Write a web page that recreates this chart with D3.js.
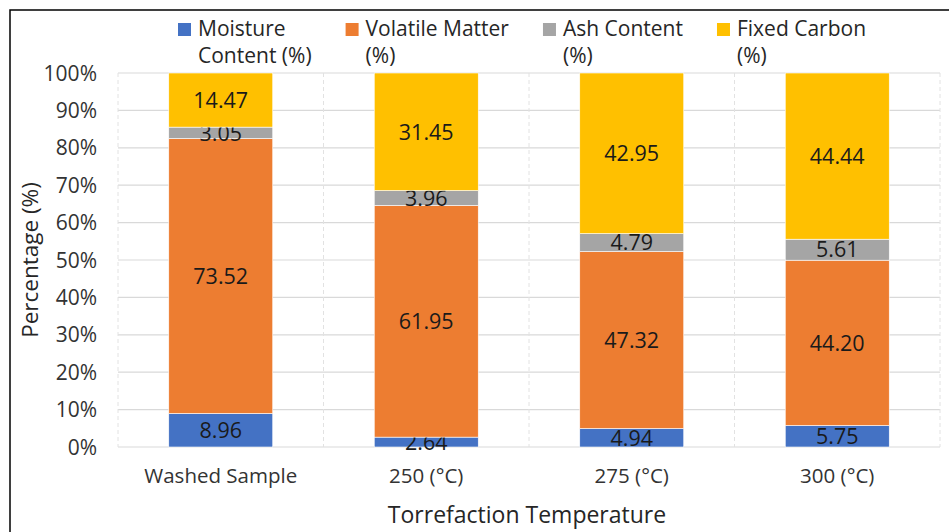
<!DOCTYPE html>
<html>
<head>
<meta charset="utf-8">
<script src="https://cdn.jsdelivr.net/npm/d3@7"></script>
<style>
  body { margin: 0; background: #fff; }
  text { font-family: "Open Sans", "Noto Sans", sans-serif; }
</style>
</head>
<body>
<div class="chart"></div>
<script>
var svgWidth = 949;
var svgHeight = 532;

// chart values
var categories = ["Washed Sample", "250 (°C)", "275 (°C)", "300 (°C)"];
var seriesKeys = ["moisture", "volatile", "ash", "fixed"];
var legendLines = [
  ["Moisture", "Content (%)"],
  ["Volatile Matter", "(%)"],
  ["Ash Content", "(%)"],
  ["Fixed Carbon", "(%)"]
];
var moisture = [8.96, 2.64, 4.94, 5.75];
var volatile = [73.52, 61.95, 47.32, 44.20];
var ash = [3.05, 3.96, 4.79, 5.61];
var fixedCarbon = [14.47, 31.45, 42.95, 44.44];
var yTicks = [0, 10, 20, 30, 40, 50, 60, 70, 80, 90, 100];
var colors = ["#4472C4", "#ED7D31", "#A5A5A5", "#FFC000"];

var margin = { top: 73, right: 9, bottom: 85, left: 118 };
var width = svgWidth - margin.left - margin.right;
var height = svgHeight - margin.top - margin.bottom;

var data = categories.map(function(c, i) {
  return { cat: c, moisture: moisture[i], volatile: volatile[i], ash: ash[i], fixed: fixedCarbon[i] };
});

var svg = d3.select(".chart")
  .append("svg")
  .attr("width", svgWidth)
  .attr("height", svgHeight);

// outer frame (cut off on the right and bottom like the screenshot)
svg.append("rect")
  .attr("x", 10)
  .attr("y", 10)
  .attr("width", 980)
  .attr("height", 560)
  .attr("fill", "none")
  .attr("stroke", "#000")
  .attr("stroke-width", 1.5);

var chartGroup = svg.append("g")
  .attr("transform", `translate(${margin.left}, ${margin.top})`);

var xScale = d3.scaleBand()
  .domain(categories)
  .range([0, width])
  .paddingInner(0.494)
  .paddingOuter(0.247);

var yScale = d3.scaleLinear()
  .domain([0, 100])
  .range([height, 0]);

// horizontal gridlines
chartGroup.append("g")
  .selectAll("line")
  .data(yTicks)
  .enter()
  .append("line")
  .attr("x1", 0)
  .attr("x2", width)
  .attr("y1", d => yScale(d))
  .attr("y2", d => yScale(d))
  .attr("stroke", "#d9d9d9")
  .attr("stroke-width", 1.2);

// vertical dashed gridlines at category boundaries
var step = xScale.step();
var bounds = d3.range(categories.length + 1).map(i => i * step);
chartGroup.append("g")
  .selectAll("line")
  .data(bounds)
  .enter()
  .append("line")
  .attr("x1", d => d)
  .attr("x2", d => d)
  .attr("y1", 0)
  .attr("y2", height)
  .attr("stroke", "#e2e2e2")
  .attr("stroke-width", 1)
  .attr("stroke-dasharray", "4,3");

// stacked bars
var stacked = d3.stack().keys(seriesKeys)(data);

var layers = chartGroup.selectAll(".layer")
  .data(stacked)
  .enter()
  .append("g")
  .attr("class", "layer")
  .attr("fill", (d, i) => colors[i]);

layers.selectAll("rect")
  .data(d => d)
  .enter()
  .append("rect")
  .attr("x", d => xScale(d.data.cat))
  .attr("y", d => yScale(d[1]))
  .attr("width", xScale.bandwidth())
  .attr("height", d => yScale(d[0]) - yScale(d[1]))
  .attr("stroke", "#fff")
  .attr("stroke-width", 0.6);

// data labels
layers.selectAll("text")
  .data(d => d.map(v => ({ v: v, key: d.key })))
  .enter()
  .append("text")
  .attr("x", d => xScale(d.v.data.cat) + xScale.bandwidth() / 2)
  .attr("y", d => yScale((d.v[0] + d.v[1]) / 2))
  .attr("dy", "0.36em")
  .attr("text-anchor", "middle")
  .attr("font-size", "21.5px")
  .attr("fill", "#1a1a1a")
  .text(d => d.v.data[d.key].toFixed(2));

// y axis labels
chartGroup.append("g")
  .selectAll("text")
  .data(yTicks)
  .enter()
  .append("text")
  .attr("x", -21)
  .attr("y", d => yScale(d))
  .attr("dy", "0.36em")
  .attr("text-anchor", "end")
  .attr("font-size", "21px")
  .attr("fill", "#333")
  .text(d => d + "%");

// x axis labels
chartGroup.append("g")
  .selectAll("text")
  .data(categories)
  .enter()
  .append("text")
  .attr("x", d => xScale(d) + xScale.bandwidth() / 2)
  .attr("y", height + 36)
  .attr("text-anchor", "middle")
  .attr("font-size", "20.5px")
  .attr("fill", "#333")
  .text(d => d);

// axis titles
chartGroup.append("text")
  .attr("transform", "rotate(-90)")
  .attr("x", -height / 2)
  .attr("y", -80)
  .attr("text-anchor", "middle")
  .attr("font-size", "22.5px")
  .attr("fill", "#262626")
  .text("Percentage (%)");

chartGroup.append("text")
  .attr("x", width / 2 - 2)
  .attr("y", height + 76)
  .attr("text-anchor", "middle")
  .attr("font-size", "23px")
  .attr("fill", "#262626")
  .text("Torrefaction Temperature");

// legend
var legend = svg.append("g");
var lx = 178;
legendLines.forEach(function(lines, i) {
  var item = legend.append("g").attr("transform", `translate(${lx}, 23)`);
  item.append("rect")
    .attr("width", 13)
    .attr("height", 13)
    .attr("fill", colors[i]);
  var t = item.append("text")
    .attr("x", 20)
    .attr("y", 13)
    .attr("font-size", "21px")
    .attr("fill", "#262626");
  lines.forEach(function(line, j) {
    t.append("tspan")
      .attr("x", 20)
      .attr("dy", j === 0 ? 0 : 27)
      .text(line);
  });
  var w = d3.max(t.selectAll("tspan").nodes(), n => n.getComputedTextLength());
  lx += 20 + w + 34;
});
</script>
</body>
</html>
